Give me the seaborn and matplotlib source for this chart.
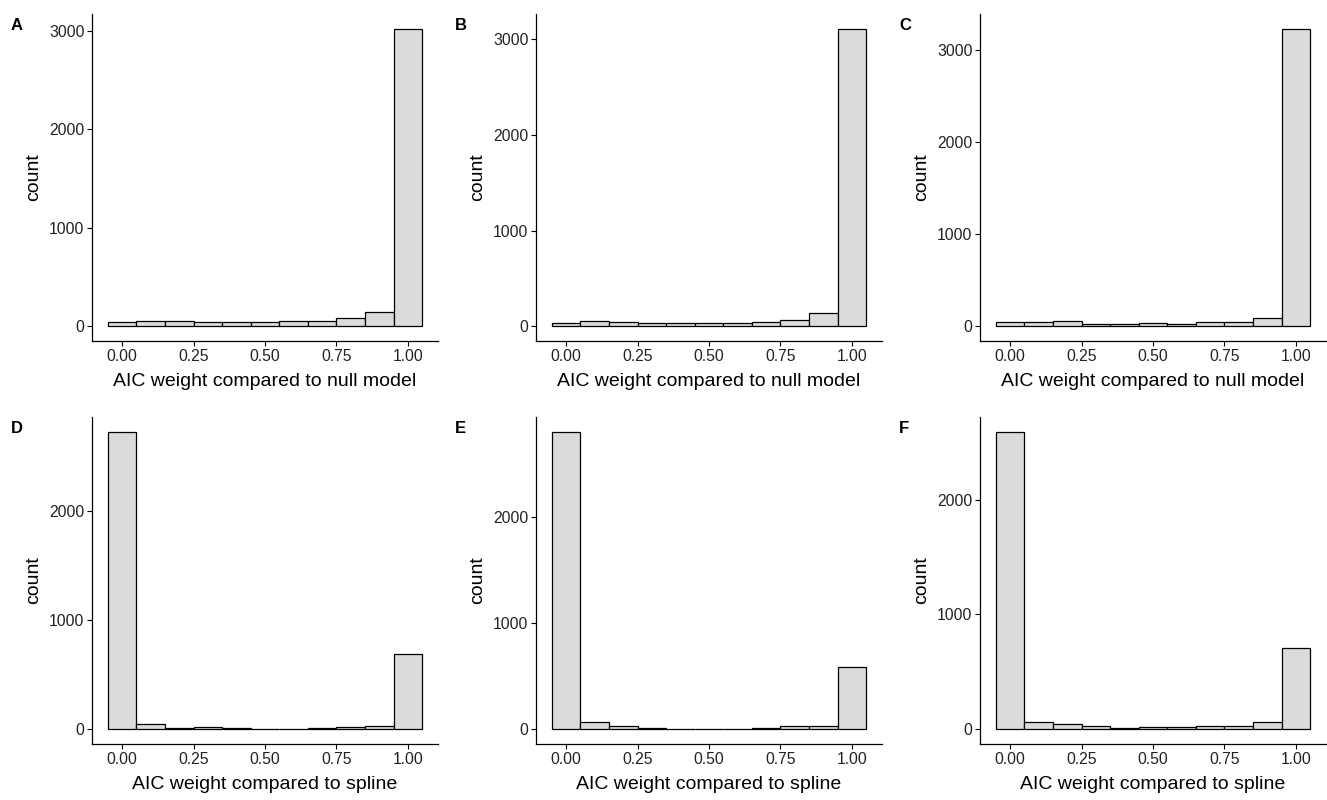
import numpy as np
import pandas as pd
import matplotlib
matplotlib.use("Agg")
import matplotlib.pyplot as plt
import seaborn as sns

# bin centres (binwidth 0.1) shared by all panels
bin_centers = [0.0, 0.1, 0.2, 0.3, 0.4, 0.5, 0.6, 0.7, 0.8, 0.9, 1.0]

# counts
counts_a = [38, 54, 48, 40, 40, 37, 48, 57, 85, 146, 3020]
counts_b = [28, 52, 45, 38, 38, 35, 35, 45, 66, 133, 3110]
counts_c = [40, 43, 51, 25, 20, 36, 25, 40, 50, 87, 3230]
counts_d = [2730, 43, 15, 20, 10, 3, 5, 8, 20, 30, 690]
counts_e = [2807, 63, 25, 10, 5, 5, 5, 8, 25, 30, 590]
counts_f = [2590, 62, 46, 26, 10, 15, 20, 25, 30, 65, 710]

panel_letters = ["A", "B", "C", "D", "E", "F"]
xlabel_top = "AIC weight compared to null model"
xlabel_bottom = "AIC weight compared to spline"
x_ticks = [0.0, 0.25, 0.5, 0.75, 1.0]
y_ticks = [0, 1000, 2000, 3000]

sns.set_theme(style="ticks")
plt.rcParams["font.family"] = ["Liberation Sans", "DejaVu Sans"]
plt.rcParams["text.color"] = "black"
plt.rcParams["axes.labelcolor"] = "black"

W, H = 1327, 800
fig = plt.figure(figsize=(W / 100, H / 100), dpi=100)

lefts = [92, 536, 980]
rows = [(14, 341), (417, 744)]
all_counts = [counts_a, counts_b, counts_c, counts_d, counts_e, counts_f]

for i, counts in enumerate(all_counts):
    r, c = divmod(i, 3)
    top, bottom = rows[r]
    ax = fig.add_axes([lefts[c] / W, 1 - bottom / H, 346 / W, (bottom - top) / H])
    df = pd.DataFrame({"w": bin_centers, "n": counts})
    sns.histplot(data=df, x="w", weights="n", binwidth=0.1, binrange=(-0.05, 1.05),
                 ax=ax, color="#DBDBDB", alpha=1, edgecolor="black", linewidth=0.9)
    ymax = max(counts)
    ax.set_xlim(-0.05 - 0.055, 1.05 + 0.055)
    ax.set_ylim(-0.05 * ymax, 1.05 * ymax)
    ax.set_xticks(x_ticks)
    ax.set_xticklabels([f"{t:.2f}" for t in x_ticks])
    ax.set_yticks([t for t in y_ticks if t <= 1.05 * ymax])
    ax.tick_params(labelsize=11.3, length=3.5, width=0.8, colors="black",
                   labelcolor="#222222", pad=2)
    for s in ["top", "right"]:
        ax.spines[s].set_visible(False)
    for s in ["left", "bottom"]:
        ax.spines[s].set_linewidth(0.9)
        ax.spines[s].set_color("black")
    ax.set_xlabel(xlabel_top if r == 0 else xlabel_bottom, fontsize=14, labelpad=7)
    ax.set_ylabel("count", fontsize=14, labelpad=5)
    fig.text((lefts[c] - 81) / W, 1 - (top + 4) / H, panel_letters[i],
             fontsize=12, fontweight="bold", ha="left", va="top")

fig.savefig("out.png", dpi=100)
